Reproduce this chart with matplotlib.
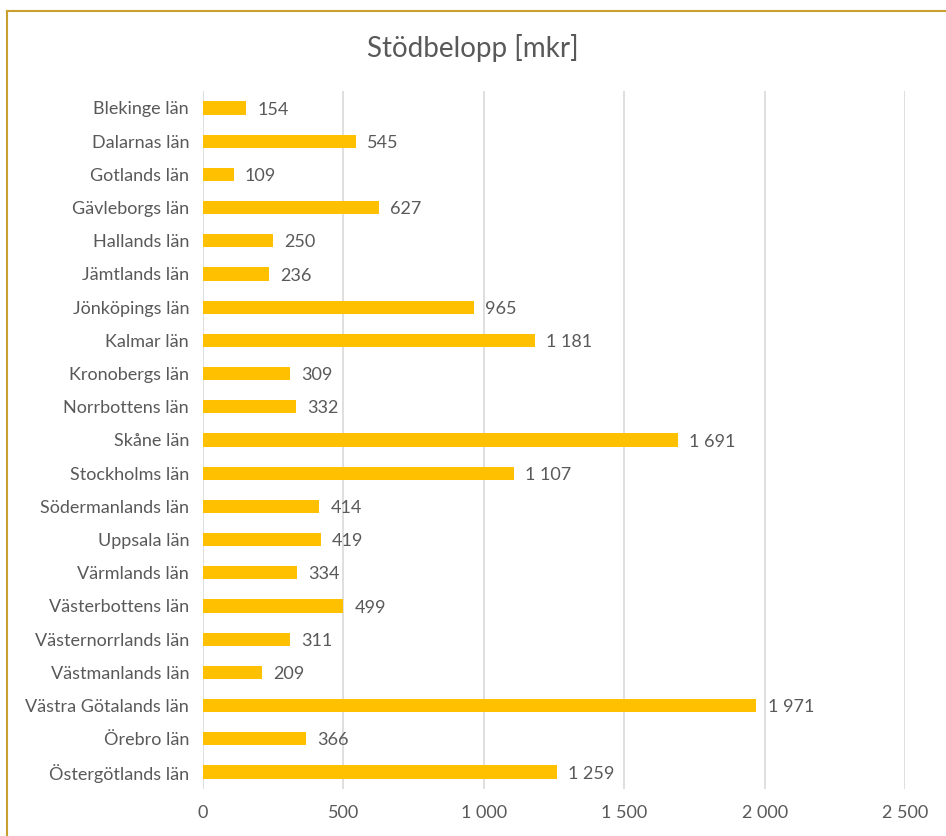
import matplotlib.pyplot as plt
from matplotlib.lines import Line2D
import matplotlib.ticker as ticker

plt.rcParams['font.family'] = ['Lato', 'DejaVu Sans']

# Data
lan = ['Blekinge län', 'Dalarnas län', 'Gotlands län', 'Gävleborgs län', 'Hallands län',
       'Jämtlands län', 'Jönköpings län', 'Kalmar län', 'Kronobergs län', 'Norrbottens län',
       'Skåne län', 'Stockholms län', 'Södermanlands län', 'Uppsala län', 'Värmlands län',
       'Västerbottens län', 'Västernorrlands län', 'Västmanlands län', 'Västra Götalands län',
       'Örebro län', 'Östergötlands län']
belopp = [154, 545, 109, 627, 250, 236, 965, 1181, 309, 332, 1691, 1107, 414, 419, 334,
          499, 311, 209, 1971, 366, 1259]

text_color = '#595959'
font_size = 13


def fmt_space(v, pos=None):
    # swedish style thousands separator
    return f'{int(v):,}'.replace(',', ' ')


fig = plt.figure(figsize=(9.46, 8.36), dpi=100)
ax = fig.add_axes([0.2146, 0.0567, 0.7421, 0.834])

y = list(range(len(lan)))
ax.barh(y, belopp, height=0.4, color='#FFC000', zorder=3)
for yi, v in zip(y, belopp):
    ax.text(v + 40, yi + 0.05, fmt_space(v), va='center', ha='left',
            fontsize=font_size, color=text_color)

ax.set_xlim(0, 2500)
ax.set_ylim(len(lan) - 0.5, -0.5)
ax.set_yticks(y)
ax.set_yticklabels(lan)
ax.xaxis.set_major_locator(ticker.MultipleLocator(500))
ax.xaxis.set_major_formatter(ticker.FuncFormatter(fmt_space))
ax.tick_params(axis='both', length=0, labelsize=font_size, labelcolor=text_color)
ax.tick_params(axis='x', pad=12)
ax.tick_params(axis='y', pad=10)
ax.grid(axis='x', color='#D9D9D9', linewidth=1.2, zorder=0)
ax.grid(axis='y', visible=False)
for s in ax.spines.values():
    s.set_visible(False)

fig.text(0.5, 0.943, 'Stödbelopp [mkr]', ha='center', va='center', fontsize=20, color=text_color)

# gold frame (only top and left edges visible)
fig.add_artist(Line2D([0.0074, 1.0], [0.9868, 0.9868], color='#C9A030', linewidth=1.5))
fig.add_artist(Line2D([0.0074, 0.0074], [0.0, 0.9868], color='#C9A030', linewidth=1.5))

fig.savefig('out.png', dpi=100)
